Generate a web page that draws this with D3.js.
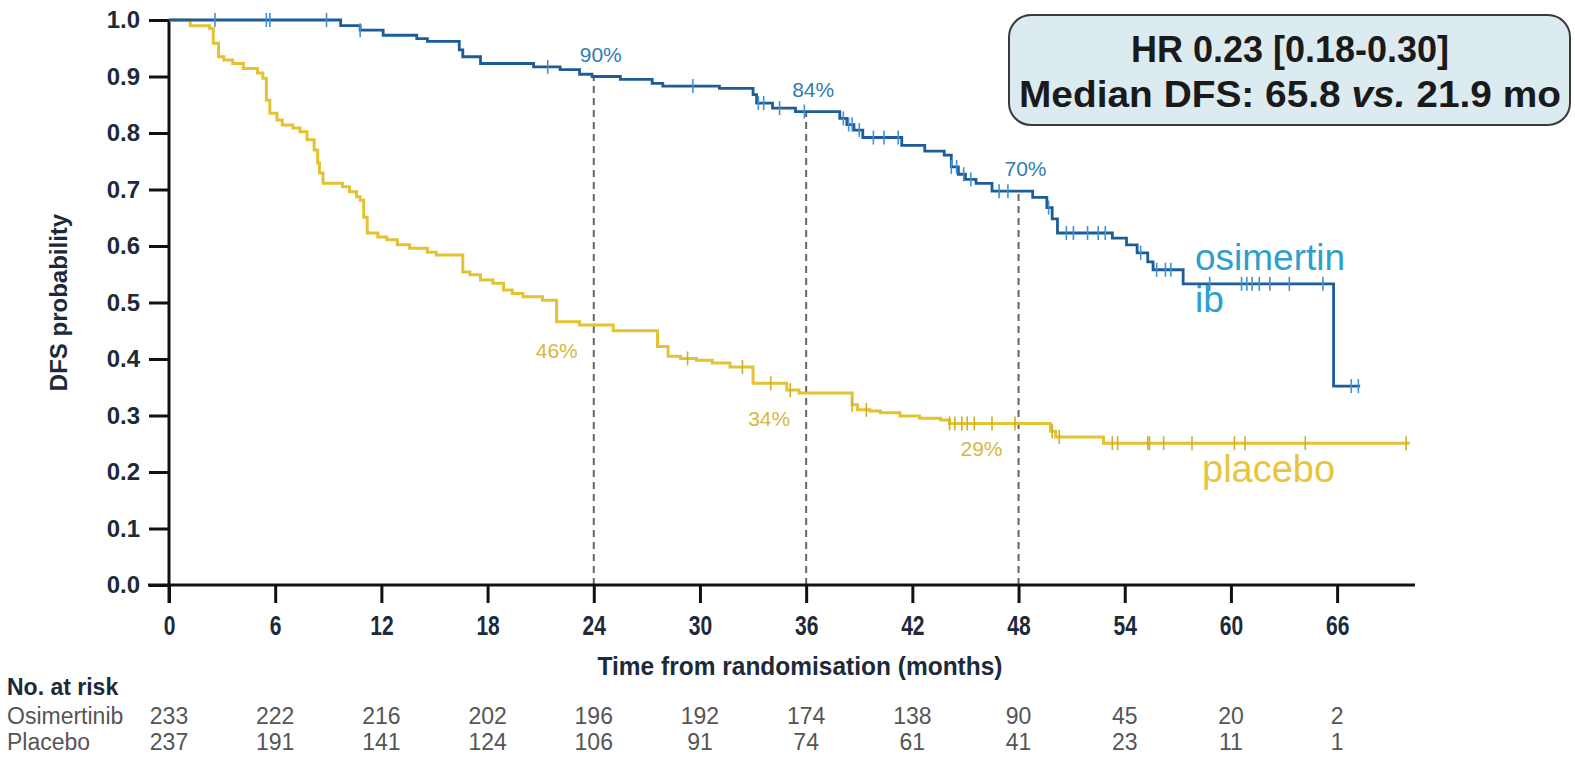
<!DOCTYPE html>
<html>
<head>
<meta charset="utf-8">
<script src="https://cdn.jsdelivr.net/npm/d3@7"></script>
<style>
  body { margin: 0; background: #fff; }
  svg { display: block; font-family: "Liberation Sans", Arial, sans-serif; }
</style>
</head>
<body>
<svg id="chart" width="1575" height="757"></svg>
<script>
// Kaplan-Meier step points: survival becomes osiSurv[i] at osiTimes[i] (months)
const osiTimes = [0, 9.7, 10.8, 12.1, 14.0, 14.6, 16.4, 16.6, 17.6, 20.6, 22.1, 23.2, 23.9, 25.5, 27.3, 27.9,
  31.1, 33.0, 33.2, 34.1, 35.4, 37.9, 38.3, 38.7, 39.2, 41.4, 42.7, 43.8, 44.2, 44.6, 45.0, 45.6, 46.5,
  48.8, 49.6, 49.9, 50.2, 53.3, 54.1, 54.7, 55.3, 55.6, 57.3, 65.8];
const osiSurv = [1.0, 0.99, 0.982, 0.973, 0.967, 0.962, 0.947, 0.935, 0.923, 0.917, 0.912, 0.904, 0.90, 0.895, 0.888, 0.883,
  0.879, 0.868, 0.853, 0.844, 0.838, 0.826, 0.815, 0.805, 0.792, 0.778, 0.768, 0.761, 0.74, 0.727, 0.718, 0.711, 0.697,
  0.686, 0.668, 0.648, 0.623, 0.614, 0.602, 0.588, 0.572, 0.558, 0.533, 0.352];
const osiLastFollowUp = 67.3;
const osiCensored = [2.6, 5.5, 5.7, 8.9, 10.8, 21.4, 29.6, 33.3, 33.6, 34.5, 35.9, 38.1, 38.4, 38.6, 39.0, 39.8, 40.4, 41.2,
  44.2, 44.5, 44.9, 45.3, 46.9, 47.4, 49.7, 50.7, 51.1, 51.9, 52.5, 52.9, 54.9, 55.8, 56.3, 56.6, 58.8, 60.6, 60.9,
  61.2, 61.6, 62.2, 63.3, 65.2, 66.8, 67.2];

const plaTimes = [0, 1.2, 2.3, 2.5, 2.8, 3.1, 3.6, 4.2, 5.0, 5.3, 5.5, 5.7, 6.1, 6.4, 7.0, 7.4, 7.8, 8.2, 8.4, 8.5, 8.7,
  9.8, 10.2, 10.6, 10.8, 11.0, 11.2, 11.8, 12.3, 12.9, 13.6, 14.6, 15.1, 16.6, 17.0, 17.6, 18.3, 18.9, 19.4, 20.0,
  21.1, 21.9, 23.2, 25.1, 27.6, 28.2, 28.9, 29.8, 30.7, 31.7, 33.0, 34.9, 35.6, 38.6, 38.9, 39.6, 40.2, 41.3, 42.4,
  43.6, 44.1, 49.8, 50.1, 52.8];
const plaSurv = [1.0, 0.99, 0.985, 0.959, 0.935, 0.929, 0.923, 0.914, 0.906, 0.897, 0.858, 0.835, 0.823, 0.814, 0.809, 0.802, 0.788, 0.77, 0.747, 0.729, 0.711,
  0.705, 0.696, 0.687, 0.681, 0.651, 0.623, 0.616, 0.611, 0.602, 0.596, 0.589, 0.584, 0.554, 0.549, 0.54, 0.534, 0.522, 0.516, 0.51,
  0.504, 0.466, 0.46, 0.45, 0.422, 0.405, 0.401, 0.398, 0.393, 0.386, 0.357, 0.345, 0.34, 0.319, 0.31, 0.308, 0.305, 0.299, 0.295,
  0.292, 0.286, 0.272, 0.262, 0.251];
const plaLastFollowUp = 70.1;
const plaCensored = [29.3, 32.4, 34.0, 35.1, 38.6, 39.4, 44.1, 44.4, 44.8, 45.1, 45.5, 46.5, 47.8, 49.9, 50.3, 53.3, 53.6,
  55.3, 55.4, 56.2, 57.8, 60.2, 60.8, 64.2, 69.9];

// Landmark estimates at 24, 36 and 48 months
const landmarks = [24, 36, 48];
const osiLandmarkLabels = ["90%", "84%", "70%"];
const plaLandmarkLabels = ["46%", "34%", "29%"];

// Axis ticks
const xTicks = [0, 6, 12, 18, 24, 30, 36, 42, 48, 54, 60, 66];
const yTicks = [0, 0.1, 0.2, 0.3, 0.4, 0.5, 0.6, 0.7, 0.8, 0.9, 1.0];

// Number at risk
const riskGroups = ["Osimertinib", "Placebo"];
const osiAtRisk = [233, 222, 216, 202, 196, 192, 174, 138, 90, 45, 20, 2];
const plaAtRisk = [237, 191, 141, 124, 106, 91, 74, 61, 41, 23, 11, 1];

const svg = d3.select("#chart");
const x = d3.scaleLinear().domain([0, 70.4]).range([169, 1415]);
const y = d3.scaleLinear().domain([0, 1]).range([585, 20]);

const BLUE = "#1d5c97", BLUE_TICK = "#3f92d6", BLUE_TEXT = "#2c9fcd", BLUE_PCT = "#2f7db6";
const GOLD = "#e4c232", GOLD_TICK = "#cfae2a", GOLD_TEXT = "#e7c53c", GOLD_PCT = "#d7b83d";
const NAVY = "#1c2a3a";

function survAt(times, surv, t) {
  return surv[Math.max(0, d3.bisectRight(times, t) - 1)];
}

// Dashed landmark guides up to the osimertinib curve
svg.append("g").selectAll("line").data(landmarks).join("line")
  .attr("x1", d => x(d)).attr("x2", d => x(d))
  .attr("y1", y(0)).attr("y2", d => y(survAt(osiTimes, osiSurv, d)))
  .attr("stroke", "#666").attr("stroke-width", 2).attr("stroke-dasharray", "7,5");

// Axes
const yAxis = svg.append("g").attr("transform", `translate(${x(0)},0)`)
  .call(d3.axisLeft(y).tickValues(yTicks).tickFormat(d3.format(".1f")).tickSize(20).tickPadding(9));
yAxis.select(".domain").remove();
yAxis.selectAll(".tick line").attr("stroke", "#111").attr("stroke-width", 3);
yAxis.selectAll(".tick text").attr("fill", NAVY).attr("font-size", 24).attr("font-weight", "bold")
  .attr("font-family", "'Liberation Sans', Arial, sans-serif");

const xAxis = svg.append("g").attr("transform", `translate(0,${y(0)})`)
  .call(d3.axisBottom(x).tickValues(xTicks).tickFormat(d3.format("d")).tickSize(18).tickPadding(13));
xAxis.select(".domain").remove();
xAxis.selectAll(".tick line").attr("stroke", "#111").attr("stroke-width", 3);
xAxis.selectAll(".tick text").attr("fill", NAVY).attr("font-size", 27).attr("font-weight", "bold")
  .attr("font-family", "'Liberation Sans', Arial, sans-serif")
  .attr("transform", "scale(0.78,1)");

svg.append("line").attr("x1", x(0)).attr("x2", x(0)).attr("y1", y(1) - 1).attr("y2", y(0) + 18)
  .attr("stroke", "#111").attr("stroke-width", 3);
svg.append("line").attr("x1", x(0) - 21).attr("x2", x(70.4)).attr("y1", y(0)).attr("y2", y(0))
  .attr("stroke", "#111").attr("stroke-width", 3);

// Axis titles
svg.append("text").attr("transform", `translate(67,${y(0.5)}) rotate(-90)`)
  .attr("text-anchor", "middle").attr("font-size", 24).attr("font-weight", "bold").attr("fill", NAVY)
  .text("DFS probability");
svg.append("text").attr("x", 800).attr("y", 675).attr("text-anchor", "middle")
  .attr("font-size", 26).attr("font-weight", "bold").attr("fill", NAVY)
  .attr("textLength", 405).attr("lengthAdjust", "spacingAndGlyphs")
  .text("Time from randomisation (months)");

// Survival curves
const stepLine = d3.line().x(d => x(d[0])).y(d => y(d[1])).curve(d3.curveStepAfter);
function curvePoints(times, surv, last) {
  const pts = times.map((t, i) => [t, surv[i]]);
  pts.push([last, surv[surv.length - 1]]);
  return pts;
}
svg.append("path").datum(curvePoints(plaTimes, plaSurv, plaLastFollowUp))
  .attr("d", stepLine).attr("fill", "none").attr("stroke", GOLD).attr("stroke-width", 3);
svg.append("path").datum(curvePoints(osiTimes, osiSurv, osiLastFollowUp))
  .attr("d", stepLine).attr("fill", "none").attr("stroke", BLUE).attr("stroke-width", 2.8);

// Censoring marks
function censorMarks(times, surv, cens, color) {
  svg.append("g").selectAll("line").data(cens).join("line")
    .attr("x1", d => x(d)).attr("x2", d => x(d))
    .attr("y1", d => y(survAt(times, surv, d)) - 7).attr("y2", d => y(survAt(times, surv, d)) + 7)
    .attr("stroke", color).attr("stroke-width", 1.6);
}
censorMarks(plaTimes, plaSurv, plaCensored, GOLD_TICK);
censorMarks(osiTimes, osiSurv, osiCensored, BLUE_TICK);

// Landmark percentages
svg.append("g").selectAll("text").data(landmarks).join("text")
  .attr("x", d => x(d) + 7).attr("y", d => y(survAt(osiTimes, osiSurv, d)) - 15)
  .attr("text-anchor", "middle").attr("font-size", 21).attr("fill", BLUE_PCT)
  .text((d, i) => osiLandmarkLabels[i]);
svg.append("g").selectAll("text").data(landmarks).join("text")
  .attr("x", d => x(d) - 16).attr("y", d => y(survAt(plaTimes, plaSurv, d)) + 33)
  .attr("text-anchor", "end").attr("font-size", 21).attr("fill", GOLD_PCT)
  .text((d, i) => plaLandmarkLabels[i]);

// Series labels
svg.append("text").attr("x", 1195).attr("y", 270).attr("font-size", 37).attr("fill", BLUE_TEXT).text("osimertin");
svg.append("text").attr("x", 1195).attr("y", 312).attr("font-size", 37).attr("fill", BLUE_TEXT).text("ib");
svg.append("text").attr("x", 1202).attr("y", 482).attr("font-size", 38).attr("fill", GOLD_TEXT).text("placebo");

// Hazard ratio box
svg.append("rect").attr("x", 1009).attr("y", 15).attr("width", 561).attr("height", 110).attr("rx", 22)
  .attr("fill", "#dcebf0").attr("stroke", "#3a3a3a").attr("stroke-width", 2);
svg.append("text").attr("x", 1290).attr("y", 62).attr("text-anchor", "middle")
  .attr("font-size", 36).attr("font-weight", "bold").attr("fill", "#1a1a1a").text("HR 0.23 [0.18-0.30]");
const med = svg.append("text").attr("x", 1290).attr("y", 107).attr("text-anchor", "middle")
  .attr("font-size", 37).attr("font-weight", "bold").attr("fill", "#1a1a1a")
  .attr("textLength", 542).attr("lengthAdjust", "spacingAndGlyphs");
med.append("tspan").text("Median DFS: 65.8 ");
med.append("tspan").attr("font-style", "italic").text("vs.");
med.append("tspan").text(" 21.9 mo");

// Number-at-risk table
svg.append("text").attr("x", 7).attr("y", 695).attr("font-size", 23).attr("font-weight", "bold")
  .attr("fill", NAVY).text("No. at risk");
const riskRows = [osiAtRisk, plaAtRisk];
riskRows.forEach((row, r) => {
  const rowY = 724 + r * 26;
  svg.append("text").attr("x", 7).attr("y", rowY).attr("font-size", 23).attr("fill", "#555")
    .text(riskGroups[r]);
  svg.append("g").selectAll("text").data(row).join("text")
    .attr("x", (d, i) => x(xTicks[i])).attr("y", rowY)
    .attr("text-anchor", "middle").attr("font-size", 23).attr("fill", "#555").text(d => d);
});
</script>
</body>
</html>
